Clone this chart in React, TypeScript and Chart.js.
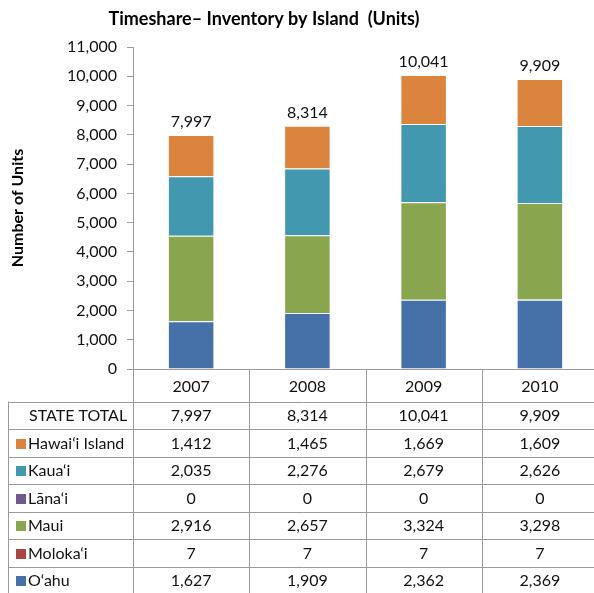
import React, { useEffect, useRef } from 'react';
import { Chart, registerables } from 'chart.js';

Chart.register(...registerables);

const years = ['2007', '2008', '2009', '2010'];
const oahu = [1627, 1909, 2362, 2369];
const molokai = [7, 7, 7, 7];
const maui = [2916, 2657, 3324, 3298];
const lanai = [0, 0, 0, 0];
const kauai = [2035, 2276, 2679, 2626];
const hawaii = [1412, 1465, 1669, 1609];
const totals = [7997, 8314, 10041, 9909];

const titleText = 'Timeshare\u2013 Inventory by Island  (Units)';
const yTitle = 'Number of Units';
const totalLabel = 'STATE TOTAL';

const FONT = 'Lato, "Open Sans", sans-serif';
const TEXT = '#111';
const LINE = '#9a9a9a';

const fmt = (v: number) => v.toLocaleString('en-US');

export default function App() {
  const ref = useRef<HTMLCanvasElement>(null);

  useEffect(() => {
    if (!ref.current) return;

    const series = [
      { label: 'O\u2018ahu', data: oahu, color: '#4571A8' },
      { label: 'Moloka\u2018i', data: molokai, color: '#AA4643' },
      { label: 'Maui', data: maui, color: '#89A54E' },
      { label: 'L\u0101na\u2018i', data: lanai, color: '#71588F' },
      { label: 'Kaua\u2018i', data: kauai, color: '#4198AF' },
      { label: 'Hawai\u2018i Island', data: hawaii, color: '#DB843D' },
    ];

    const tableRows: { label: string; values: number[]; color: string | null }[] = [
      { label: totalLabel, values: totals, color: null },
      ...series.slice().reverse().map((s) => ({ label: s.label, values: s.data, color: s.color })),
    ];

    const tablePlugin = {
      id: 'tableAndLabels',
      afterDraw(chart: any) {
        const ctx = chart.ctx as CanvasRenderingContext2D;
        const xs = chart.scales.x;
        const ys = chart.scales.y;
        const ca = chart.chartArea;
        const n = years.length;
        const colW = (ca.right - ca.left) / n;
        ctx.save();

        // Title
        ctx.font = `bold 18px ${FONT}`;
        ctx.fillStyle = '#000';
        ctx.textAlign = 'center';
        ctx.textBaseline = 'middle';
        ctx.fillText(titleText, 264, 19);

        // Totals above bars
        ctx.font = `16px ${FONT}`;
        ctx.fillStyle = TEXT;
        ctx.textBaseline = 'bottom';
        totals.forEach((t, i) => {
          ctx.fillText(fmt(t), xs.getPixelForValue(i), ys.getPixelForValue(t) - 5);
        });

        // Table lines
        const axisY = ca.bottom;
        const tableTop = 401.5;
        const rowH = 27.5;
        const bottom = chart.height;
        const leftX = 8.5;
        ctx.strokeStyle = LINE;
        ctx.lineWidth = 1;
        ctx.beginPath();
        for (let k = 0; k <= tableRows.length; k++) {
          const y = Math.round(tableTop + k * rowH) + 0.5;
          ctx.moveTo(leftX, y);
          ctx.lineTo(ca.right, y);
        }
        ctx.moveTo(leftX, tableTop);
        ctx.lineTo(leftX, bottom);
        for (let i = 0; i <= n; i++) {
          const x = Math.round(ca.left + i * colW) + 0.5;
          ctx.moveTo(x, axisY);
          ctx.lineTo(x, bottom);
        }
        ctx.stroke();

        // Table text
        ctx.font = `16px ${FONT}`;
        ctx.fillStyle = TEXT;
        ctx.textBaseline = 'middle';
        tableRows.forEach((row, r) => {
          const cy = tableTop + r * rowH + rowH / 2 + 1;
          if (row.color) {
            ctx.fillStyle = row.color;
            ctx.fillRect(16, Math.round(cy - 5), 10, 10);
          }
          ctx.fillStyle = TEXT;
          ctx.textAlign = 'left';
          ctx.fillText(row.label, row.color ? 28 : 29, cy);
          ctx.textAlign = 'center';
          row.values.forEach((v, i) => {
            ctx.fillText(fmt(v), xs.getPixelForValue(i), cy);
          });
        });

        ctx.restore();
      },
    };

    const chart = new Chart(ref.current, {
      type: 'bar',
      data: {
        labels: years,
        datasets: series.map((s) => ({
          label: s.label,
          data: s.data,
          backgroundColor: s.color,
          borderColor: 'rgba(255,255,255,0.45)',
          borderWidth: 1,
          categoryPercentage: 1,
          barPercentage: 0.4,
        })),
      },
      options: {
        animation: false,
        responsive: true,
        maintainAspectRatio: false,
        layout: { padding: { top: 47, left: 0, right: 0, bottom: 0 } },
        plugins: {
          legend: { display: false },
          title: { display: false },
          tooltip: { enabled: false },
        },
        scales: {
          x: {
            stacked: true,
            afterFit: (scale: any) => {
              scale.height = 224;
            },
            grid: { display: false },
            border: { display: true, color: LINE, width: 1 },
            ticks: { color: TEXT, font: { family: FONT, size: 16 }, padding: 0, maxRotation: 0 },
          },
          y: {
            stacked: true,
            min: 0,
            max: 11000,
            afterFit: (scale: any) => {
              scale.width = 133;
            },
            grid: { display: true, drawOnChartArea: false, drawTicks: true, tickLength: 6, color: LINE },
            border: { display: true, color: LINE, width: 1 },
            ticks: { stepSize: 1000, color: TEXT, font: { family: FONT, size: 16 }, padding: 10 },
            title: {
              display: true,
              text: yTitle,
              color: '#000',
              font: { family: FONT, size: 16, weight: 'bold' },
              padding: { top: 8, bottom: 0 },
            },
          },
        },
      },
      plugins: [tablePlugin],
    });

    return () => chart.destroy();
  }, []);

  return (
    <div style={{ position: 'fixed', left: 0, top: 0, width: 594, height: 593, overflow: 'hidden', background: '#fff' }}>
      <div style={{ position: 'relative', width: 598, height: 593 }}>
        <canvas ref={ref} />
      </div>
    </div>
  );
}
